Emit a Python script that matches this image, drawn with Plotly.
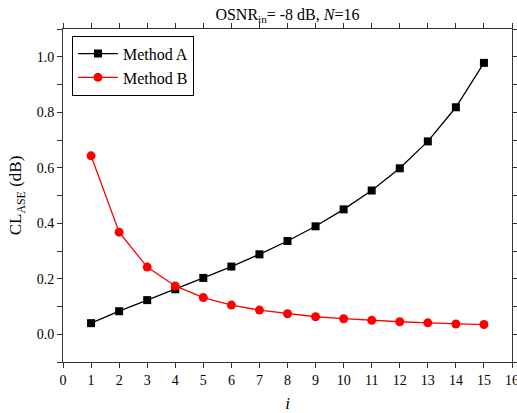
import plotly.graph_objects as go

i_vals = list(range(1, 16))
method_a = [0.040, 0.083, 0.123, 0.162, 0.203, 0.244, 0.288, 0.336, 0.389, 0.450,
            0.518, 0.598, 0.695, 0.818, 0.978]
method_b = [0.643, 0.368, 0.242, 0.174, 0.132, 0.105, 0.087, 0.074, 0.063, 0.056,
            0.050, 0.045, 0.041, 0.037, 0.035]
x_ticks = list(range(0, 17))
y_ticks = [0.0, 0.2, 0.4, 0.6, 0.8, 1.0]

font = "Liberation Serif"

fig = go.Figure()
fig.add_trace(go.Scatter(x=i_vals, y=method_a, mode="lines+markers", name="Method A",
                         line=dict(color="black", width=1.3),
                         marker=dict(symbol="square", size=8, color="black")))
fig.add_trace(go.Scatter(x=i_vals, y=method_b, mode="lines+markers", name="Method B",
                         line=dict(color="red", width=1.3),
                         marker=dict(symbol="circle", size=9, color="red")))

axis_common = dict(showline=True, linecolor="#333", linewidth=1, mirror="allticks",
                   ticks="outside", ticklen=5, tickcolor="#333", showgrid=False, zeroline=False,
                   automargin=False, ticklabeloverflow="allow",
                   tickfont=dict(family=font, size=14, color="black"))

fig.update_layout(
    width=517, height=413,
    margin=dict(l=63, r=5, t=29, b=51),
    paper_bgcolor="white", plot_bgcolor="white",
    font=dict(family=font, color="black"),
    title=dict(text="OSNR<sub>in</sub>= -8 dB, <i>N</i>=16", x=0.556, xanchor="center",
               y=0.965, yanchor="middle", font=dict(family=font, size=16)),
    showlegend=True,
    legend=dict(x=0.02, y=0.98, xanchor="left", yanchor="top", bordercolor="black",
                borderwidth=1, bgcolor="white", font=dict(family=font, size=16),
                tracegroupgap=0, itemwidth=40),
)
fig.update_xaxes(range=[0, 16], tickvals=x_ticks, ticktext=[str(t) for t in x_ticks],
                 title=dict(text="<i>i</i>", font=dict(family=font, size=17), standoff=12),
                 **axis_common)
fig.update_yaxes(range=[-0.1, 1.1], tickvals=y_ticks, ticktext=[f"{t:.1f}" for t in y_ticks],
                 minor=dict(dtick=0.1, tick0=0, ticks="outside", ticklen=5, tickcolor="#333"),
                 title=dict(text="CL<sub>ASE</sub> (dB)", font=dict(family=font, size=17), standoff=10),
                 **axis_common)

fig.write_html("out.html", config={"displayModeBar": False},
               post_script="document.body.style.margin='0px';document.body.style.overflow='hidden';")
